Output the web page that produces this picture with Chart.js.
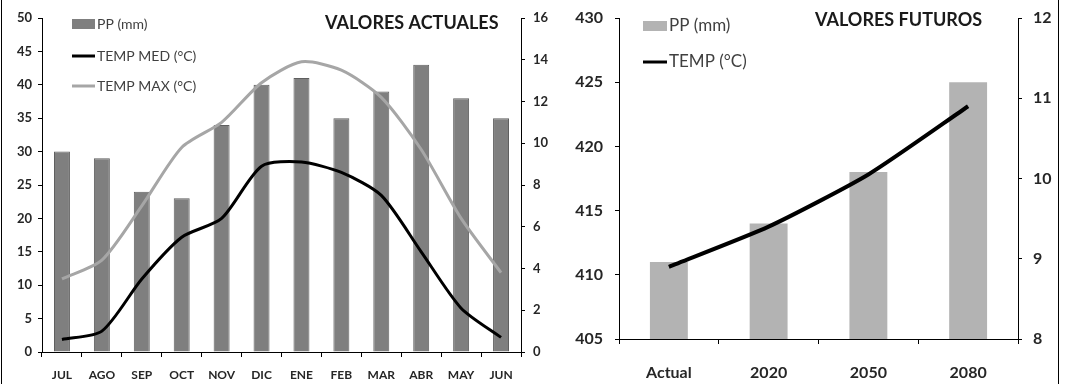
<!DOCTYPE html>
<html>
<head>
<meta charset="utf-8">
<script src="https://cdn.jsdelivr.net/npm/chart.js@4/dist/chart.umd.min.js"></script>
<style>
  html, body { margin: 0; padding: 0; background: #fff; }
  #wrap { position: relative; width: 1066px; height: 384px; overflow: hidden; background: #fff; }
  .cv { position: absolute; top: 0; }
  .edge { position: absolute; top: 0; width: 1px; height: 384px; background: #000; }
</style>
</head>
<body>
<div id="wrap">
  <div class="cv" style="left:0;width:556px;height:384px"><canvas id="actual" width="556" height="384"></canvas></div>
  <div class="cv" style="left:556px;width:510px;height:384px"><canvas id="futuro" width="510" height="384"></canvas></div>
  <div class="edge" style="left:1px"></div>
  <div class="edge" style="left:1058px"></div>
</div>
<script>
// Monthly climate values (current)
const meses = ['JUL', 'AGO', 'SEP', 'OCT', 'NOV', 'DIC', 'ENE', 'FEB', 'MAR', 'ABR', 'MAY', 'JUN'];
const ppMensual = [30, 29, 24, 23, 34, 40, 41, 35, 39, 43, 38, 35];
const tempMed = [0.6, 1.0, 3.5, 5.5, 6.4, 8.9, 9.1, 8.6, 7.5, 4.8, 2.1, 0.7];
const tempMax = [3.5, 4.4, 7.0, 9.8, 11.0, 12.9, 13.9, 13.5, 12.2, 9.7, 6.4, 3.8];

// Projected values
const periodos = ['Actual', '2020', '2050', '2080'];
const ppFuturo = [411, 414, 418, 425];
const tempFutura = [8.9, 9.4, 10.05, 10.9];

const FONT = 'Lato, "Open Sans", "Liberation Sans", sans-serif';
const TXT = '#262626';

// Draws the chart title and an in-plot legend
function titleLegend(opts) {
  return {
    id: 'titleLegend',
    afterDraw(chart) {
      const ctx = chart.ctx;
      ctx.save();
      ctx.font = 'bold ' + opts.titleSize + 'px ' + FONT;
      ctx.fillStyle = '#1a1a1a';
      ctx.textBaseline = 'middle';
      ctx.textAlign = 'left';
      ctx.fillText(opts.title, opts.titleX, opts.titleY);

      ctx.font = opts.legendSize + 'px ' + FONT;
      chart.data.datasets.forEach((ds, i) => {
        const y = opts.legendY[i];
        const x0 = opts.legendX, x1 = opts.legendX + opts.swatchW;
        if (ds.type === 'bar') {
          ctx.fillStyle = ds.backgroundColor;
          ctx.fillRect(x0, y - 5, opts.swatchW, 10);
        } else {
          ctx.strokeStyle = ds.borderColor;
          ctx.lineWidth = 3;
          ctx.beginPath();
          ctx.moveTo(x0, y);
          ctx.lineTo(x1, y);
          ctx.stroke();
        }
        ctx.fillStyle = '#404040';
        ctx.fillText(ds.label, x1 + 2, y);
      });
      ctx.restore();
    }
  };
}

function yAxis(pos, min, max, step, width, pad, size) {
  return {
    position: pos, min, max,
    ticks: { stepSize: step, padding: pad, color: TXT, font: { family: FONT, size, weight: 'bold' } },
    grid: { drawOnChartArea: false, drawTicks: true, tickLength: 4, tickColor: '#000', lineWidth: 1 },
    border: { display: true, color: '#000', width: 1 },
    afterFit(s) {
      s.width = width;
      // keep only the label half-height as vertical overflow
      s.paddingTop = size * 0.6;
      s.paddingBottom = size * 0.6;
    }
  };
}

function xAxis(height, pad, size) {
  return {
    offset: true,
    ticks: { padding: pad, color: TXT, font: { family: FONT, size, weight: 'bold' }, maxRotation: 0, autoSkip: false },
    grid: { offset: true, drawOnChartArea: false, drawTicks: true, tickLength: 5, tickColor: '#000', lineWidth: 1 },
    border: { display: true, color: '#000', width: 1 },
    afterFit(s) { s.height = height; }
  };
}

Chart.defaults.font.family = FONT;

new Chart(document.getElementById('actual'), {
  data: {
    labels: meses,
    datasets: [
      { type: 'bar', label: 'PP (mm)', data: ppMensual, yAxisID: 'y', order: 3,
        backgroundColor: '#7f7f7f', borderColor: '#5f5f5f', borderWidth: 1,
        barPercentage: 0.8, categoryPercentage: 0.5 },
      { type: 'line', label: 'TEMP MED (°C)', data: tempMed, yAxisID: 'y1', order: 1,
        borderColor: '#000000', borderWidth: 3, pointRadius: 0, tension: 0.25, fill: false },
      { type: 'line', label: 'TEMP MAX (°C)', data: tempMax, yAxisID: 'y1', order: 2,
        borderColor: '#a6a6a6', borderWidth: 3, pointRadius: 0, tension: 0.25, fill: false }
    ]
  },
  options: {
    responsive: false, animation: false, events: [],
    layout: { padding: { top: 18, left: 0, right: 0, bottom: 0 } },
    plugins: { legend: { display: false }, tooltip: { enabled: false } },
    scales: {
      x: xAxis(32, 11, 12),
      y: yAxis('left', 0, 50, 5, 42, 6, 13),
      y1: yAxis('right', 0, 16, 2, 35, 8, 13)
    }
  },
  plugins: [titleLegend({
    title: 'VALORES ACTUALES', titleSize: 18, titleX: 325, titleY: 23,
    legendX: 72, swatchW: 23, legendY: [24, 56, 86], legendSize: 14
  })]
});

new Chart(document.getElementById('futuro'), {
  data: {
    labels: periodos,
    datasets: [
      { type: 'bar', label: 'PP (mm)', data: ppFuturo, yAxisID: 'y', order: 2,
        backgroundColor: '#b3b3b3', borderWidth: 0,
        barPercentage: 0.76, categoryPercentage: 0.5 },
      { type: 'line', label: 'TEMP (°C)', data: tempFutura, yAxisID: 'y1', order: 1,
        borderColor: '#000000', borderWidth: 4, pointRadius: 0, tension: 0.2, fill: false }
    ]
  },
  options: {
    responsive: false, animation: false, events: [],
    layout: { padding: { top: 18, left: 0, right: 0, bottom: 0 } },
    plugins: { legend: { display: false }, tooltip: { enabled: false } },
    scales: {
      x: xAxis(45, 19, 16),
      y: yAxis('left', 405, 430, 5, 63, 12, 16),
      y1: yAxis('right', 8, 12, 1, 48, 11, 16)
    }
  },
  plugins: [titleLegend({
    title: 'VALORES FUTUROS', titleSize: 18, titleX: 259, titleY: 20,
    legendX: 87, swatchW: 24, legendY: [26, 62], legendSize: 17
  })]
});
</script>
</body>
</html>
